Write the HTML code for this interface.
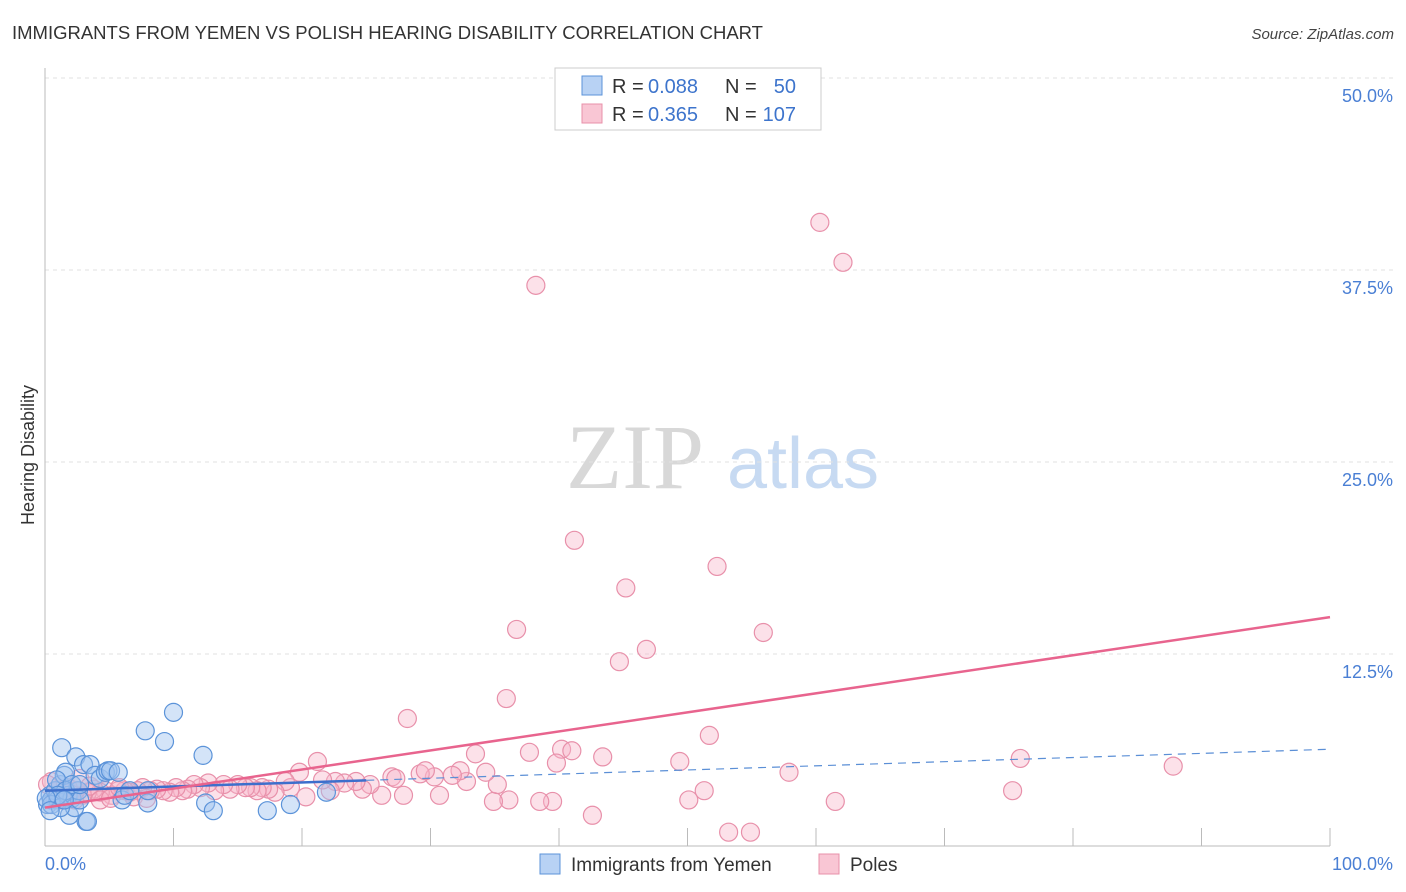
<!DOCTYPE html>
<html><head><meta charset="utf-8">
<style>
body{margin:0;background:#fff;}
svg{display:block;font-family:"Liberation Sans",sans-serif;}
</style></head>
<body>
<svg id="chart" width="1406" height="892" viewBox="0 0 1406 892" xmlns="http://www.w3.org/2000/svg">
<text x="12" y="39" font-size="18.4" fill="#333" textLength="751" lengthAdjust="spacingAndGlyphs">IMMIGRANTS FROM YEMEN VS POLISH HEARING DISABILITY CORRELATION CHART</text>
<text x="1394" y="39" font-size="15" fill="#444" text-anchor="end" font-style="italic">Source: ZipAtlas.com</text>
<g>
<text x="635" y="488" font-size="92" fill="#d8d8d8" font-family="Liberation Serif,serif" text-anchor="middle">ZIP</text>
<text x="803" y="488" font-size="72" fill="#c7daf2" text-anchor="middle">atlas</text>
</g>
<g id="grid"></g>
<g id="axes"></g>
<g id="marks"></g>
<text transform="translate(34,455) rotate(-90)" font-size="18" fill="#333" text-anchor="middle">Hearing Disability</text>
<g>
<rect x="555" y="68" width="266" height="62" fill="#fff" stroke="#ccc"/>
<rect x="582" y="76" width="20" height="19" fill="#b8d2f4" stroke="#5b93d9"/>
<text x="612" y="93" font-size="20" fill="#333">R =</text>
<text x="648" y="93" font-size="20" fill="#3d74cc">0.088</text>
<text x="725" y="93" font-size="20" fill="#333">N =</text>
<text x="796" y="93" font-size="20" fill="#3d74cc" text-anchor="end">50</text>
<rect x="582" y="104" width="20" height="19" fill="#f9c6d4" stroke="#e890aa"/>
<text x="612" y="121" font-size="20" fill="#333">R =</text>
<text x="648" y="121" font-size="20" fill="#3d74cc">0.365</text>
<text x="725" y="121" font-size="20" fill="#333">N =</text>
<text x="796" y="121" font-size="20" fill="#3d74cc" text-anchor="end">107</text>
</g>
<g>
<rect x="540" y="854" width="20" height="20" fill="#b8d2f4" stroke="#5b93d9"/>
<text x="571" y="871" font-size="19" fill="#333">Immigrants from Yemen</text>
<rect x="819" y="854" width="20" height="20" fill="#f9c6d4" stroke="#e890aa"/>
<text x="850" y="871" font-size="19" fill="#333">Poles</text>
</g>
</svg>
<script>
const yTicks=[12.5,25,37.5,50];
const yTickLabels=["12.5%","25.0%","37.5%","50.0%"];
const blueX=[0.2,0.4,0.5,0.8,1.0,1.2,1.3,1.5,1.6,1.8,1.9,2.1,2.3,2.4,2.6,2.7,3.0,3.2,3.3,3.5,3.9,4.3,4.7,4.9,5.1,5.7,6.0,6.2,6.6,7.8,8.0,9.3,10.0,8.0,12.3,12.5,13.1,17.3,19.1,21.9,0.5,0.9,1.2,1.6,2.1,1.0,1.5,2.7,0.1,0.4];
const blueY=[2.7,3.3,3.0,3.6,3.0,4.0,6.4,4.6,4.8,3.3,2.0,3.1,2.5,5.8,3.6,3.0,5.3,1.6,1.6,5.3,4.6,4.4,4.8,4.9,4.9,4.8,3.0,3.3,3.6,7.5,2.8,6.8,8.7,3.6,5.9,2.8,2.3,2.3,2.7,3.5,2.7,4.3,2.5,3.6,4.0,3.3,3.0,4.0,3.1,2.3];
const pinkX=[60.3,62.1,38.2,41.2,52.3,45.2,36.7,55.9,44.7,46.8,35.9,28.2,51.7,75.9,87.8,21.2,33.5,37.7,40.2,41.0,43.4,39.8,49.4,57.9,61.5,75.3,51.3,50.1,53.2,54.9,42.6,39.5,38.5,36.1,34.9,35.2,34.3,32.8,32.3,31.7,30.7,30.3,29.2,29.6,27.9,27.0,27.3,26.2,25.3,24.7,24.2,23.3,22.6,22.2,21.6,20.3,19.8,19.1,18.7,17.9,17.4,16.9,16.5,16.0,15.6,15.0,14.4,13.9,13.2,12.7,12.1,11.6,11.1,10.7,10.2,9.7,9.2,8.7,8.2,7.6,7.2,6.6,6.2,5.7,5.2,4.7,4.3,3.8,3.3,2.9,2.4,1.9,1.5,1.0,0.5,0.2,0.8,1.3,1.8,2.3,2.7,3.5,4.3,5.1,5.8,6.9,7.9];
const pinkY=[40.6,38.0,36.5,19.9,18.2,16.8,14.1,13.9,12.0,12.8,9.6,8.3,7.2,5.7,5.2,5.5,6.0,6.1,6.3,6.2,5.8,5.4,5.5,4.8,2.9,3.6,3.6,3.0,0.9,0.9,2.0,2.9,2.9,3.0,2.9,4.0,4.8,4.2,4.9,4.6,3.3,4.5,4.7,4.9,3.3,4.5,4.4,3.3,4.0,3.7,4.2,4.1,4.2,3.6,4.3,3.2,4.8,3.8,4.2,3.5,3.7,3.8,3.6,3.8,3.8,4.0,3.7,4.0,3.6,4.1,3.8,4.0,3.7,3.6,3.8,3.5,3.6,3.7,3.6,3.8,3.6,3.5,3.6,3.6,3.3,3.6,3.5,3.7,3.5,3.3,3.6,3.3,3.5,3.6,4.2,4.0,3.1,3.0,3.8,3.0,4.4,3.9,3.0,3.1,3.8,3.2,3.1];
const blueTrend=[3.6,6.3];   // y at x=0, x=100
const blueSolidEnd=25;
const pinkTrend=[2.5,14.9];
const NS="http://www.w3.org/2000/svg";
const X=v=>45+v*12.85, Y=v=>846-v*15.36;
function mk(tag,attrs,parent){const e=document.createElementNS(NS,tag);for(const k in attrs)e.setAttribute(k,attrs[k]);parent.appendChild(e);return e;}
const grid=document.getElementById('grid'),axes=document.getElementById('axes'),marks=document.getElementById('marks');
yTicks.forEach((t,i)=>{
 const l=mk('line',{x1:45,x2:1393,y1:Y(t),y2:Y(t),stroke:'#e2e2e2','stroke-dasharray':'4,4'},grid);
 
 
 const tx=mk('text',{x:1393,y:Y(t)+24,'font-size':18,fill:'#4a7fd4','text-anchor':'end'},axes);
 tx.textContent=yTickLabels[i];
 
 
});
mk('line',{x1:45,x2:45,y1:68,y2:846,stroke:'#bbb'},axes);
mk('line',{x1:45,x2:1330,y1:846,y2:846,stroke:'#bbb'},axes);
for(let k=1;k<=10;k++){const t=mk('line',{x1:X(k*10),x2:X(k*10),y1:828,y2:846,stroke:'#bbb'},axes);
 
 }
const x0=mk('text',{x:45,y:870,'font-size':18,fill:'#4a7fd4'},axes);x0.textContent='0.0%';


const x1=mk('text',{x:1393,y:870,'font-size':18,fill:'#4a7fd4','text-anchor':'end'},axes);x1.textContent='100.0%';


pinkX.forEach((v,i)=>{const c=mk('circle',{cx:X(v),cy:Y(pinkY[i]),r:9,fill:'rgba(248,180,200,0.4)',stroke:'#e890aa','stroke-width':1.2},marks);
 
 });
blueX.forEach((v,i)=>{const c=mk('circle',{cx:X(v),cy:Y(blueY[i]),r:9,fill:'rgba(160,196,240,0.45)',stroke:'#5b93d9','stroke-width':1.2},marks);
 
 });
const by=x=>blueTrend[0]+(blueTrend[1]-blueTrend[0])*x/100;
const b1=mk('line',{x1:X(0),y1:Y(by(0)),x2:X(blueSolidEnd),y2:Y(by(blueSolidEnd)),stroke:'#3d6fcc','stroke-width':2.5},marks);


const b2=mk('line',{x1:X(blueSolidEnd),y1:Y(by(blueSolidEnd)),x2:X(100),y2:Y(by(100)),stroke:'#5b8fd6','stroke-width':1.2,'stroke-dasharray':'8,6'},marks);


const p=mk('line',{x1:X(0),y1:Y(pinkTrend[0]),x2:X(100),y2:Y(pinkTrend[1]),stroke:'#e8648e','stroke-width':2.5},marks);


</script>
</body></html>
